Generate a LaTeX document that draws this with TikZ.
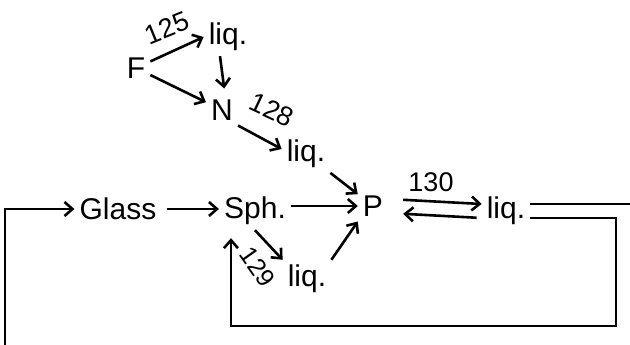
\documentclass[tikz,border=0pt]{standalone}
\usepackage{fontspec}
\setmainfont{Liberation Sans}
\usetikzlibrary{arrows.meta}

\tikzset{
  spec/.style={inner sep=5pt,font=\fontsize{30}{34}\selectfont},
  fig/.style={inner sep=0pt,font=\fontsize{27}{30}\selectfont},
  arr/.style={line width=2.6pt,-{Straight Barb[length=8pt,width=14pt,line width=2.6pt]}},
  wire/.style={line width=2.3pt},
}

\begin{document}
\begin{tikzpicture}[x=1pt,y=-1pt]
\useasboundingbox (0,0) rectangle (630,345);
% species (pixel frame, y downwards)
\node[spec] (F) at (136,68) {F};
\node[spec] (liqA) at (228,37) {liq.};
\node[spec] (N) at (222,110) {N};
\node[spec] (liqB) at (306,154) {liq.};
\node[spec] (Glass) at (118,209) {Glass};
\node[spec] (Sph) at (255,211) {Sph.};
\node[spec] (P) at (373,206) {P};
\node[spec] (liqC) at (506,211) {liq.};
\node[spec] (liqD) at (307,279) {liq.};
% figure numbers
\node[fig,rotate=22] (n125) at (167,28) {125};
\node[fig,rotate=-25] (n128) at (272,110) {128};
\node[fig] (n130) at (431,182) {130};
\node[fig,rotate=-55,font=\fontsize{25}{28}\selectfont] (n129) at (258,267) {129};
% free ends of the recycle loop
\coordinate (inL) at (5,345);
\coordinate (outR) at (630,204);
\coordinate (loopR) at (616,326);
% reactions
\draw[arr] (F) -- (liqA.west);
\draw[arr,shorten >=6pt] ([xshift=-8pt]liqA.south) -- ([xshift=3pt]N.north);
\draw[arr] (F) -- (N);
\draw[arr] (N.south east) -- ([yshift=5pt]liqB.west);
\draw[arr] (liqB) -- (P);
\draw[arr,shorten <=5pt] (Glass) -- (Sph.west |- Glass);
\draw[arr] (Sph.east |- P) -- (P.west);
\draw[arr] (Sph.south) -- (liqD.north west);
\draw[arr] (liqD.north east) -- (P.south west);
\draw[arr,shorten <=15pt] ([yshift=7pt]P.east) -- ([yshift=7pt]liqC.west);
\draw[arr,shorten <=5pt,shorten >=15pt] ([yshift=-7pt]liqC.west) -- ([yshift=-7pt]P.east);
% recycle
\draw[wire] ([yshift=7pt]liqC.east) -- (outR);
\draw[arr,shorten >=8pt] ([yshift=-7pt]liqC.east) -| (loopR) -| ([xshift=12pt]Sph.south west);
\draw[arr] (inL) |- (Glass.west);
\end{tikzpicture}
\end{document}
